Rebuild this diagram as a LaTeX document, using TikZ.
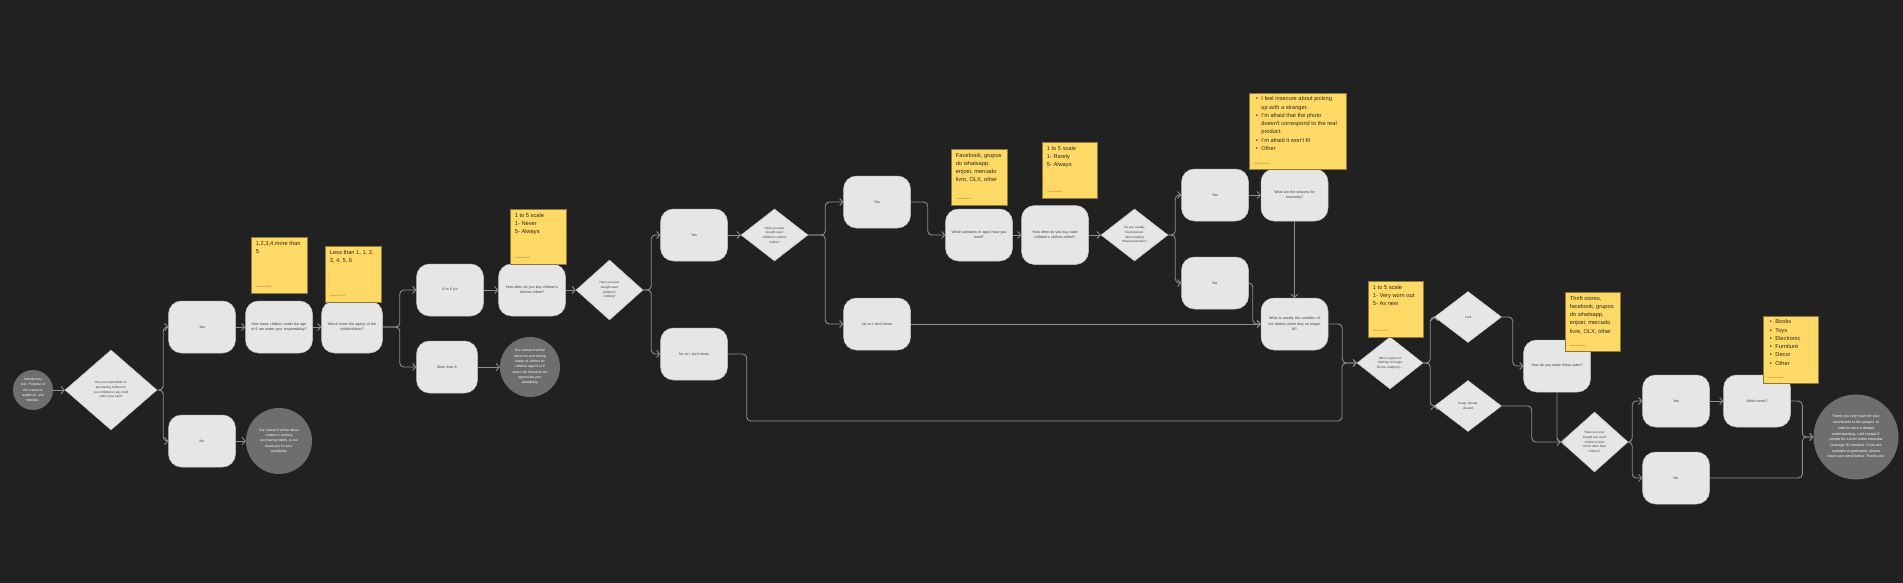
\documentclass[tikz,border=0pt]{standalone}
\usepackage{fontspec}
\setmainfont{Liberation Sans}
\usetikzlibrary{shapes.geometric,arrows.meta,positioning}
\definecolor{bgdark}{HTML}{212121}
\definecolor{boxfill}{HTML}{E6E6E6}
\definecolor{boxline}{HTML}{C4C4C4}
\definecolor{boxtext}{HTML}{3A3A3A}
\definecolor{dotfill}{HTML}{6E6E6E}
\definecolor{linkgray}{HTML}{8E8E8E}
\definecolor{notefill}{HTML}{FFD966}
\definecolor{notebrown}{HTML}{8C7A3C}
\definecolor{notedark}{HTML}{2E2A1E}
\tikzset{
  qbox/.style={draw=boxline, line width=0.5pt, fill=boxfill, rounded corners=13pt,
               minimum width=67pt, minimum height=52pt, text width=66pt, align=center,
               inner sep=0pt, text=boxtext, font=\fontsize{3.6}{5.3}\selectfont},
  qdiamond/.style={diamond, draw=boxline, line width=0.5pt, fill=boxfill,
               minimum width=67pt, minimum height=52pt, inner sep=0pt, align=center,
               text=boxtext, font=\fontsize{3.1}{4.7}\selectfont},
  qdot/.style={circle, fill=dotfill, inner sep=0pt, align=center, text=white,
               font=\fontsize{3.4}{5.3}\selectfont},
  note/.style={draw=notebrown, line width=0.6pt, fill=notefill, inner sep=0pt,
               minimum width=56pt, minimum height=56pt},
  notetext/.style={inner sep=0pt, align=left, text=notedark, font=\fontsize{5.7}{8.3}\selectfont},
  notelist/.style={inner sep=0pt, text=notedark, font=\fontsize{5.7}{8.3}\selectfont},
  noteauthor/.style={inner sep=0pt, text=notebrown, font=\fontsize{2}{2.4}\selectfont},
  link/.style={draw=linkgray, line width=0.9pt, rounded corners=4pt,
               -{Straight Barb[length=3pt,width=7pt]}},
}

\begin{document}
\begin{tikzpicture}[x=1pt,y=-1pt]
  \fill[bgdark] (0,0) rectangle (1903,583);
  \useasboundingbox (0,0) rectangle (1903,583);

  % screening
  \node[qdot, minimum size=40pt] (intro) at (33,390) {Introductory\\text: Purpose of\\the research,\\audience, and\\timeline.};
  \node[qdiamond, minimum width=92pt, minimum height=80pt] (q1) at (111,390) {Are you responsible for\\purchasing clothes for\\your children or any child\\under your care?};
  \node[qbox] (yes1) at (202,327) {Yes};
  \node[qbox] (no1) at (202,441) {No};
  \node[qdot, minimum size=66pt] (endno) at (279,441) {Our research will be about\\children's clothing\\purchasing habits, so we\\thank you for your\\availability.};
  \node[qbox] (howmany) at (279,327) {How many children under the age\\of 6 are under your responsibility?};
  \node[qbox, minimum width=61pt, text width=60pt] (ages) at (352,327) {Which is/are the age(s) of the\\child/children?};
  \node[qbox] (zerosix) at (450,290) {0 to 6 y.o};
  \node[qbox, minimum width=61pt, text width=60pt] (moresix) at (447,367) {More than 6};
  \node[qdot, minimum size=60pt] (endage) at (530,367) {Our research will be\\about the purchasing\\habits of clothes for\\children aged 0 to 6\\years old, therefore we\\appreciate your\\availability.};
  \node[qbox] (howoften) at (532,290) {How often do you buy children's\\clothes online?};

  % used clothing
  \node[qdiamond, minimum height=60pt] (q2) at (609.5,290) {Have you ever\\bought used\\children's\\clothing?};
  \node[qbox] (yes2) at (694,235) {Yes};
  \node[qbox] (nodk1) at (694,354) {No or I don't know};
  \node[qdiamond] (q3) at (774.5,235) {Have you ever\\bought used\\children's clothes\\online?};
  \node[qbox] (yes3) at (877,202) {Yes};
  \node[qbox] (nodk2) at (877,324) {No or I don't know};
  \node[qbox] (websites) at (979,235) {Which websites or apps have you\\used?};
  \node[qbox, minimum height=59pt] (howoftenused) at (1055,235) {How often do you buy used\\children's clothes online?};
  \node[qdiamond] (q4) at (1134.5,235) {Do you usually\\feel insecure\\when making\\these purchases?};
  \node[qbox] (yes4) at (1215,195) {Yes};
  \node[qbox] (no4) at (1215,283) {No};
  \node[qbox] (reasons) at (1294.5,195) {What are the reasons for\\insecurity?};
  \node[qbox] (condition) at (1294.5,324) {What is usually the condition of\\the clothes when they no longer\\fit?};

  % after use
  \node[qdiamond, minimum width=66pt] (q5) at (1390,363) {When a piece of\\clothing no longer\\fits the child(ren),...};
  \node[qdiamond, minimum height=51pt] (sell) at (1468,317) {I sell};
  \node[qdiamond, minimum height=51pt] (keep) at (1468,406) {I keep, donate,\\discard};
  \node[qbox] (sales) at (1557,366) {How do you make these sales?};
  \node[qdiamond, minimum height=60pt] (q6) at (1594.5,442) {Have you ever\\bought any used\\children's item\\online other than\\clothes?};
  \node[qbox] (yes5) at (1676,401) {Yes};
  \node[qbox] (no5) at (1676,478) {No};
  \node[qbox] (whichones) at (1757,401) {Which ones?};
  \node[qdot, minimum size=85pt, font=\fontsize{3.6}{5.7}\selectfont] (thanks) at (1856,437) {Thank you very much for your\\contribution to this project. In\\order to have a deeper\\understanding, I will contact 5\\people for a brief online interview\\(average 30 minutes). If you are\\available to participate, please\\leave your email below. Thank you!};

  % connectors
  \draw[link] (intro) -- (q1);
  \draw[link] (q1.east) -- ++(6,0) |- (yes1.west);
  \draw[link] (q1.east) -- ++(6,0) |- (no1.west);
  \draw[link] (yes1) -- (howmany);
  \draw[link] (howmany) -- (ages);
  \draw[link] (no1) -- (endno);
  \draw[link] (ages.east) -- ++(17,0) |- (zerosix.west);
  \draw[link] (ages.east) -- ++(17,0) |- (moresix.west);
  \draw[link] (zerosix) -- (howoften);
  \draw[link] (moresix) -- (endage);
  \draw[link] (howoften) -- (q2);
  \draw[link] (q2.east) -- ++(8,0) |- (yes2.west);
  \draw[link] (q2.east) -- ++(8,0) |- (nodk1.west);
  \draw[link] (yes2) -- (q3);
  \draw[link] (q3.east) -- ++(17,0) |- (yes3.west);
  \draw[link] (q3.east) -- ++(17,0) |- (nodk2.west);
  \draw[link] (yes3.east) -- ++(17,0) |- (websites.west);
  \draw[link] (websites) -- (howoftenused);
  \draw[link] (howoftenused) -- (q4);
  \draw[link] (q4.east) -- ++(7,0) |- (yes4.west);
  \draw[link] (q4.east) -- ++(7,0) |- (no4.west);
  \draw[link] (yes4) -- (reasons);
  \draw[link] (reasons) -- (condition);
  \draw[link] (no4.east) -- ++(4,0) |- (condition.west);
  \draw[link] (nodk2) -- (condition);
  \draw[link] (condition.east) -- ++(14,0) |- (q5.west);
  \coordinate (lowbend) at (1342,421);
  \draw[link] (nodk1.east) -- ++(19,0) |- (lowbend) |- (q5.west);
  \draw[link] (q5.east) -- ++(7,0) |- (sell.west);
  \draw[link] (q5.east) -- ++(7,0) |- (keep.west);
  \draw[link] (sell.east) -- ++(11,0) |- (sales.west);
  \draw[link] (keep.east) -- ++(30,0) |- (q6.west);
  \draw[link] (sales.south) |- (q6.west);
  \draw[link] (q6.east) -- ++(4,0) |- (yes5.west);
  \draw[link] (q6.east) -- ++(4,0) |- (no5.west);
  \draw[link] (yes5) -- (whichones);
  \draw[link] (whichones.east) -| ([xshift=-11pt]thanks.west) -- (thanks.west);
  \draw[link] (no5.east) -| ([xshift=-11pt]thanks.west) -- (thanks.west);

  % sticky notes
  \node[note] (n1) at (279,265) {};
  \node[notetext, below right=4pt and 5pt of n1.north west] (n1t) {1,2,3,4,more than\\5};
  \node[noteauthor, above right=6pt and 5pt of n1.south west] (n1a) {Larissa M Batista};
  \node[note] (n2) at (353,274) {};
  \node[notetext, below right=4pt and 5pt of n2.north west] (n2t) {Less than 1, 1, 2,\\3, 4, 5, 6};
  \node[noteauthor, above right=6pt and 5pt of n2.south west] (n2a) {Larissa M Batista};
  \node[note, minimum height=55pt] (n3) at (538,236.5) {};
  \node[notetext, below right=4pt and 5pt of n3.north west] (n3t) {1 to 5 scale\\1- Never\\5- Always};
  \node[noteauthor, above right=6pt and 5pt of n3.south west] (n3a) {Larissa M Batista};
  \node[note] (n4) at (979,177) {};
  \node[notetext, below right=4pt and 5pt of n4.north west] (n4t) {Facebook, grupos\\do whatsapp,\\enjoei, mercado\\livro, OLX, other};
  \node[noteauthor, above right=6pt and 5pt of n4.south west] (n4a) {Larissa M Batista};
  \node[note, minimum width=55pt] (n5) at (1069.5,170) {};
  \node[notetext, below right=4pt and 5pt of n5.north west] (n5t) {1 to 5 scale\\1- Rarely\\5- Always};
  \node[noteauthor, above right=6pt and 5pt of n5.south west] (n5a) {Larissa M Batista};
  \node[note, minimum width=97pt, minimum height=76pt] (n6) at (1297.5,131) {};
  \node[notelist, below right=2pt and 7pt of n6.north west] (n6t) {\begin{tabular}{@{}l@{\hspace{3.5pt}}l@{}}
    \textbullet & I feel insecure about picking\\ & up with a stranger.\\
    \textbullet & I'm afraid that the photo\\ & doesn't correspond to the real\\ & product.\\
    \textbullet & I'm afraid it won't fit\\
    \textbullet & Other\end{tabular}};
  \node[noteauthor, above right=5pt and 5pt of n6.south west] (n6a) {Larissa M Batista};
  \node[note, minimum width=55pt] (n7) at (1395.5,309) {};
  \node[notetext, below right=4pt and 5pt of n7.north west] (n7t) {1 to 5 scale\\1- Very worn out\\5- As new};
  \node[noteauthor, above right=6pt and 5pt of n7.south west] (n7a) {Larissa M Batista};
  \node[note, minimum width=55pt, minimum height=59pt] (n8) at (1592.5,321.5) {};
  \node[notetext, below right=4pt and 5pt of n8.north west] (n8t) {Thrift stores,\\facebook, grupos\\do whatsapp,\\enjoei, mercado\\livre, OLX, other};
  \node[noteauthor, above right=5pt and 5pt of n8.south west] (n8a) {Larissa M Batista};
  \node[note, minimum width=55pt, minimum height=67pt] (n9) at (1790.5,349.5) {};
  \node[notelist, below right=2pt and 7pt of n9.north west] (n9t) {\begin{tabular}{@{}l@{\hspace{3.5pt}}l@{}}
    \textbullet & Books\\ \textbullet & Toys\\ \textbullet & Electronic\\
    \textbullet & Furniture\\ \textbullet & Decor\\ \textbullet & Other\end{tabular}};
  \node[noteauthor, above right=5pt and 5pt of n9.south west] (n9a) {Larissa M Batista};
\end{tikzpicture}
\end{document}
